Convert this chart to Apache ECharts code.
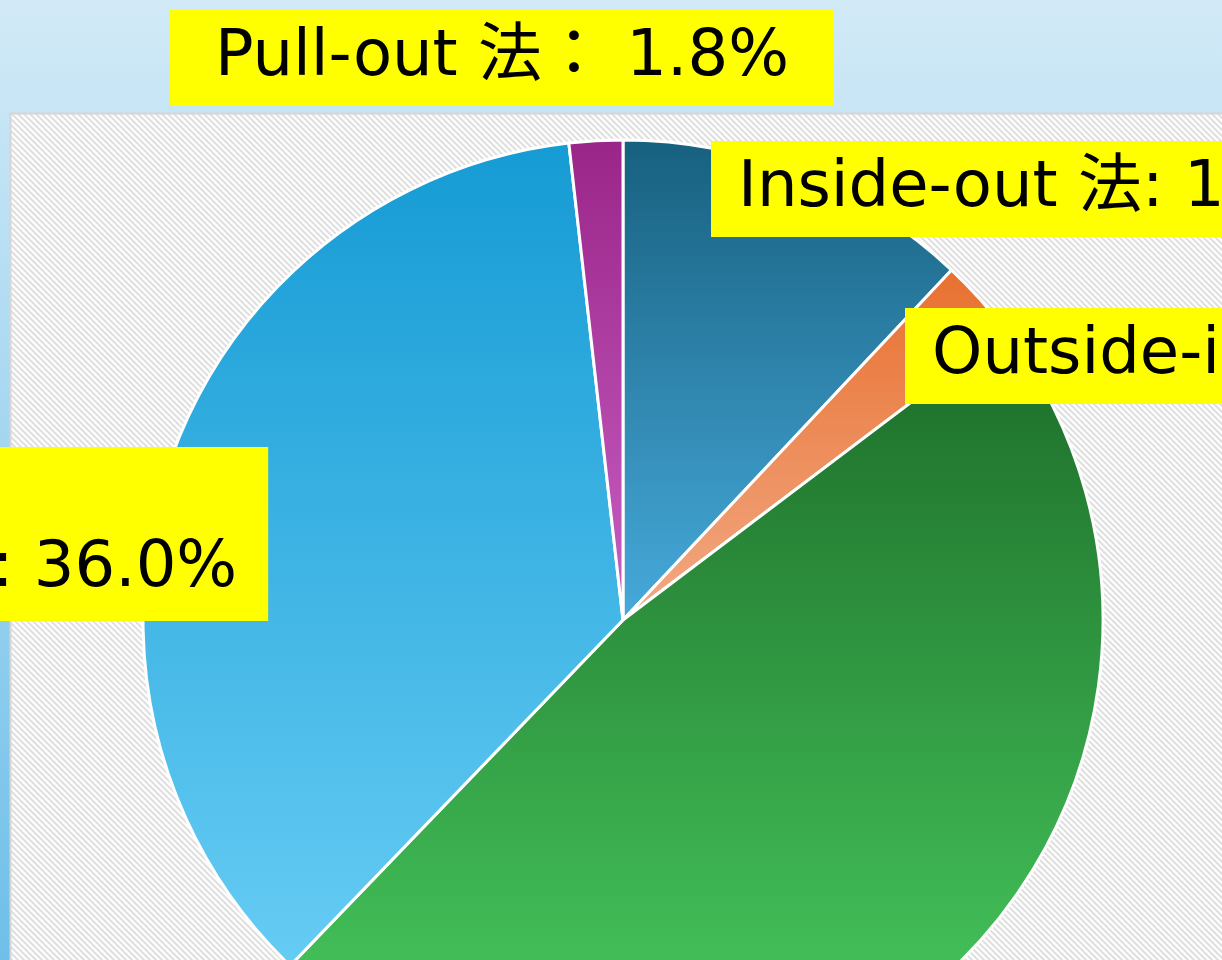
<!DOCTYPE html>
<html>
<head>
<meta charset="utf-8">
<style>
  html, body { margin: 0; padding: 0; width: 1222px; height: 960px; overflow: hidden; }
  #chart { width: 1222px; height: 960px; }
</style>
<script src="https://cdn.jsdelivr.net/npm/echarts@6/dist/echarts.min.js"></script>
</head>
<body>
<div id="chart"></div>
<script>
// ---- data ----
var categories = ['Inside-out 法', 'Outside-in 法', 'All-inside 法', 'All-inside 法\n+ Inside-out 法', 'Pull-out 法'];
var values = [12.0, 2.7, 47.5, 36.0, 1.8];
var separators = [': ', '： ', ': ', ': ', '： '];

// ---- styles ----
var gradients = [
  ['#17607f', '#47aadb'],
  ['#e8702f', '#f2aa85'],
  ['#1c6b28', '#4ad062'],
  ['#159bd4', '#66ccf4'],
  ['#9a2588', '#c85fc4']
];
var labelPos = [
  { x: 711, y: 141, align: 'left' },
  { x: 905, y: 308, align: 'left' },
  { x: 700, y: 1000, align: 'left' },
  { x: -513, y: 447, align: 'left' },
  { x: 170, y: 10, align: 'left' }
];
var labelPad = [[12, 27], [12, 27], [12, 27], [14, 31, 16, 27], [12, 45]];

// hatch pattern
var P = 6;
var pat = document.createElement('canvas');
pat.width = P; pat.height = P;
var pc = pat.getContext('2d');
pc.fillStyle = '#ffffff';
pc.fillRect(0, 0, P, P);
pc.strokeStyle = '#e0e0e0';
pc.lineWidth = 2.2;
pc.beginPath();
[-P, 0, P].forEach(function (o) {
  pc.moveTo(o - 2, -2); pc.lineTo(o + P + 2, P + 2);
});
pc.stroke();

var chart = echarts.init(document.getElementById('chart'), null, { renderer: 'canvas' });

var data = categories.map(function (c, i) {
  return {
    name: c,
    value: values[i],
    itemStyle: {
      color: new echarts.graphic.LinearGradient(0, 0, 0, 1, [
        { offset: 0, color: gradients[i][0] },
        { offset: 1, color: gradients[i][1] }
      ])
    },
    label: {
      show: i !== 2,
      padding: labelPad[i]
    }
  };
});

var option = {
  animation: false,
  backgroundColor: new echarts.graphic.LinearGradient(0, 0, 0, 1, [
    { offset: 0, color: '#d2eaf7' },
    { offset: 1, color: '#6ebfe9' }
  ]),
  graphic: [
    {
      type: 'rect',
      z: -10,
      shape: { x: 10.5, y: 113.5, width: 1260, height: 900 },
      style: { fill: { image: pat, repeat: 'repeat' }, stroke: '#d6d6d6', lineWidth: 2 },
      silent: true
    }
  ],
  series: [
    {
      type: 'pie',
      center: [623, 620],
      radius: 480,
      startAngle: 90,
      clockwise: true,
      avoidLabelOverlap: false,
      itemStyle: { borderColor: '#ffffff', borderWidth: 3 },
      label: {
        show: true,
        position: 'outside',
        formatter: function (p) {
          return p.name + separators[p.dataIndex] + p.value.toFixed(1) + '%';
        },
        fontFamily: '"DejaVu Sans", "Noto Sans CJK JP", sans-serif',
        fontSize: 64,
        lineHeight: 72,
        color: '#000000',
        backgroundColor: '#ffff00'
      },
      labelLine: { show: false },
      labelLayout: function (params) {
        var p = labelPos[params.dataIndex];
        return { x: p.x, y: p.y, align: p.align, verticalAlign: 'top', hideOverlap: false, moveOverlap: false };
      },
      emphasis: { disabled: true },
      data: data
    }
  ]
};
chart.setOption(option);
</script>
</body>
</html>
